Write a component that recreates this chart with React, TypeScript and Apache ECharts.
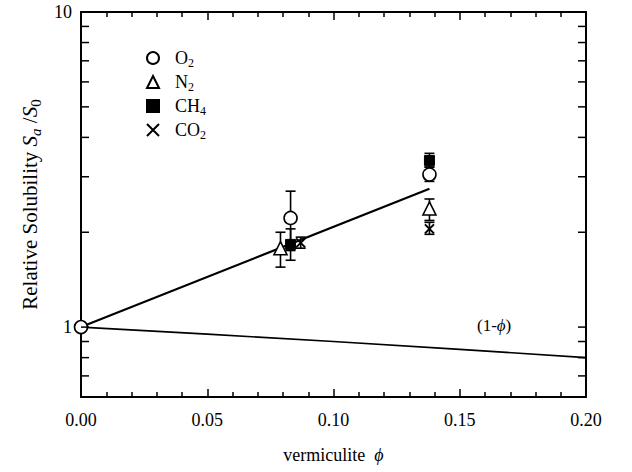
import React, { useEffect, useRef } from "react";
import * as echarts from "echarts";

const FONT = "Liberation Serif";

// x range
const xMin = 0;
const xMax = 0.2;
const yMin = 0.6;
const yMax = 10;

// species data [phi, Sa/S0]
const o2Data: number[][] = [[0, 1], [0.083, 2.22], [0.138, 3.05]];
const n2Data: number[][] = [[0.079, 1.78], [0.138, 2.38]];
const ch4Data: number[][] = [[0.083, 1.83], [0.138, 3.38]];
const co2Data: number[][] = [[0.087, 1.85], [0.138, 2.05]];

// error bars [phi, low, high]
const o2Err: number[][] = [[0.083, 1.75, 2.7], [0.138, 2.9, 3.22]];
const n2Err: number[][] = [[0.079, 1.55, 2.0], [0.138, 2.18, 2.55]];
const ch4Err: number[][] = [[0.083, 1.63, 2.05], [0.138, 3.22, 3.56]];
const co2Err: number[][] = [[0.087, 1.78, 1.93], [0.138, 1.97, 2.15]];

// fitted line and (1-phi) line
const fitLine: number[][] = [[0, 1], [0.138, 2.75]];
const onePhiLine: number[][] = [[0, 1], [0.05, 0.95], [0.1, 0.9], [0.15, 0.85], [0.2, 0.8]];

// y minor ticks on log axis
const yTickValues: number[] = [0.7, 0.8, 0.9, 1, 2, 3, 4, 5, 6, 7, 8, 9];

const crossPath = "path://M0,0L10,10M10,0L0,10";

export default function App() {
  const ref = useRef<HTMLDivElement>(null);
  useEffect(() => {
    if (!ref.current) return;
    const chart = echarts.init(ref.current, undefined, { renderer: "svg" });

    const errData = [...o2Err, ...n2Err, ...ch4Err, ...co2Err];

    const xAxisBase = {
      type: "value" as const,
      min: xMin,
      max: xMax,
      interval: 0.05,
      axisLine: { show: true, onZero: false, lineStyle: { color: "#000", width: 2 } },
      axisTick: { show: true, inside: true, length: 8, lineStyle: { color: "#000", width: 1.5 } },
      minorTick: { show: true, splitNumber: 5, length: 5, lineStyle: { color: "#000", width: 1.5 } },
      splitLine: { show: false },
      minorSplitLine: { show: false },
    };

    const yAxisBase = {
      type: "log" as const,
      logBase: 10,
      min: yMin,
      max: yMax,
      axisLine: { show: true, onZero: false, lineStyle: { color: "#000", width: 2 } },
      axisTick: { show: false },
      splitLine: { show: false },
    };

    const scatterBase = {
      type: "scatter" as const,
      clip: false,
      z: 5,
    };

    const option: any = {
      animation: false,
      backgroundColor: "#fff",
      grid: { left: 81, right: 46, top: 12, bottom: 75, containLabel: false },
      legend: {
        orient: "vertical",
        left: 141,
        top: 42,
        itemGap: 2,
        itemWidth: 12,
        itemHeight: 12,
        data: ["O2", "N2", "CH4", "CO2"],
        formatter: (name: string) => {
          const m = name.match(/^([A-Z]+)(\d)$/);
          return m ? `{n|${m[1]}}{s|${m[2]}}` : name;
        },
        textStyle: {
          fontFamily: FONT,
          fontSize: 18,
          color: "#000",
          lineHeight: 22,
          padding: [0, 0, 0, 11],
          rich: {
            n: { fontFamily: FONT, fontSize: 18, lineHeight: 22, color: "#000" },
            s: { fontFamily: FONT, fontSize: 12, lineHeight: 10, verticalAlign: "bottom", color: "#000" },
          },
        },
      },
      xAxis: [
        {
          ...xAxisBase,
          position: "bottom",
          name: "vermiculite  {i|ϕ}",
          nameLocation: "middle",
          nameGap: 49,
          nameTextStyle: {
            fontFamily: FONT,
            fontSize: 18,
            color: "#000",
            rich: { i: { fontFamily: FONT, fontSize: 18, fontStyle: "italic", color: "#000" } },
          },
          axisLabel: {
            show: true,
            fontFamily: FONT,
            fontSize: 18,
            color: "#000",
            margin: 14,
            formatter: (v: number) => v.toFixed(2),
          },
        },
        {
          ...xAxisBase,
          position: "top",
          axisLabel: { show: false },
        },
      ],
      yAxis: [
        {
          ...yAxisBase,
          position: "left",
          name: "Relative Solubility {i|S}{isub|a}{n| /}{i|S}{sub|0}",
          nameLocation: "middle",
          nameGap: 38,
          nameTextStyle: {
            fontFamily: FONT,
            fontSize: 21,
            color: "#000",
            lineHeight: 26,
            rich: {
              i: { fontFamily: FONT, fontSize: 21, fontStyle: "italic", color: "#000", lineHeight: 26 },
              n: { fontFamily: FONT, fontSize: 21, color: "#000", lineHeight: 26 },
              isub: { fontFamily: FONT, fontSize: 15, fontStyle: "italic", color: "#000", lineHeight: 15, verticalAlign: "bottom" },
              sub: { fontFamily: FONT, fontSize: 15, color: "#000", lineHeight: 15, verticalAlign: "bottom" },
            },
          },
          axisLabel: {
            show: true,
            fontFamily: FONT,
            fontSize: 18,
            color: "#000",
            margin: 9,
            showMinLabel: false,
            formatter: (v: number) => (Math.abs(v - 1) < 1e-6 ? "1" : Math.abs(v - 10) < 1e-6 ? "10" : ""),
          },
        },
        {
          ...yAxisBase,
          position: "right",
          axisLabel: { show: false },
        },
      ],
      graphic: [
        {
          type: "text",
          left: 477,
          top: 317,
          style: {
            text: "(1-{i|ϕ})",
            fontFamily: FONT,
            fontSize: 17,
            fill: "#000",
            rich: { i: { fontFamily: FONT, fontSize: 17, fontStyle: "italic", fill: "#000" } },
          },
        },
      ],
      series: [
        {
          name: "fit",
          type: "line",
          data: fitLine,
          symbol: "none",
          lineStyle: { color: "#000", width: 2.2 },
          z: 3,
        },
        {
          name: "(1-phi)",
          type: "line",
          data: onePhiLine,
          symbol: "none",
          lineStyle: { color: "#000", width: 1.6 },
          z: 3,
        },
        {
          name: "errors",
          type: "custom",
          data: errData,
          z: 4,
          renderItem: (params: any, api: any) => {
            const x = api.value(0);
            const lo = api.coord([x, api.value(1)]);
            const hi = api.coord([x, api.value(2)]);
            const w = 5;
            const st = { stroke: "#000", lineWidth: 1.6 };
            return {
              type: "group",
              children: [
                { type: "line", shape: { x1: lo[0], y1: lo[1], x2: hi[0], y2: hi[1] }, style: st },
                { type: "line", shape: { x1: lo[0] - w, y1: lo[1], x2: lo[0] + w, y2: lo[1] }, style: st },
                { type: "line", shape: { x1: hi[0] - w, y1: hi[1], x2: hi[0] + w, y2: hi[1] }, style: st },
              ],
            };
          },
        },
        {
          name: "yticks",
          type: "custom",
          data: yTickValues.map((v) => [v]),
          z: 6,
          clip: false,
          renderItem: (params: any, api: any) => {
            const v = api.value(0);
            const l = api.coord([xMin, v]);
            const r = api.coord([xMax, v]);
            const len = 8;
            const st = { stroke: "#000", lineWidth: 1.5 };
            return {
              type: "group",
              children: [
                { type: "line", shape: { x1: l[0], y1: l[1], x2: l[0] + len, y2: l[1] }, style: st },
                { type: "line", shape: { x1: r[0] - len, y1: r[1], x2: r[0], y2: r[1] }, style: st },
              ],
            };
          },
        },
        {
          ...scatterBase,
          name: "CO2",
          data: co2Data,
          symbol: crossPath,
          symbolSize: 9,
          itemStyle: { color: "#000", borderColor: "#000", borderWidth: 2, opacity: 1 },
        },
        {
          ...scatterBase,
          name: "CH4",
          data: ch4Data,
          symbol: "rect",
          symbolSize: 10,
          itemStyle: { color: "#000", borderColor: "#000", borderWidth: 1, opacity: 1 },
        },
        {
          ...scatterBase,
          name: "N2",
          data: n2Data,
          symbol: "triangle",
          symbolSize: 13,
          itemStyle: { color: "#fff", borderColor: "#000", borderWidth: 1.6, opacity: 1 },
        },
        {
          ...scatterBase,
          name: "O2",
          data: o2Data,
          symbol: "circle",
          symbolSize: 13,
          itemStyle: { color: "#fff", borderColor: "#000", borderWidth: 1.6, opacity: 1 },
        },
      ],
    };

    chart.setOption(option);
    return () => chart.dispose();
  }, []);

  return (
    <div
      ref={ref}
      style={{ position: "fixed", left: 0, top: 0, width: 632, height: 472, background: "#fff" }}
    />
  );
}
